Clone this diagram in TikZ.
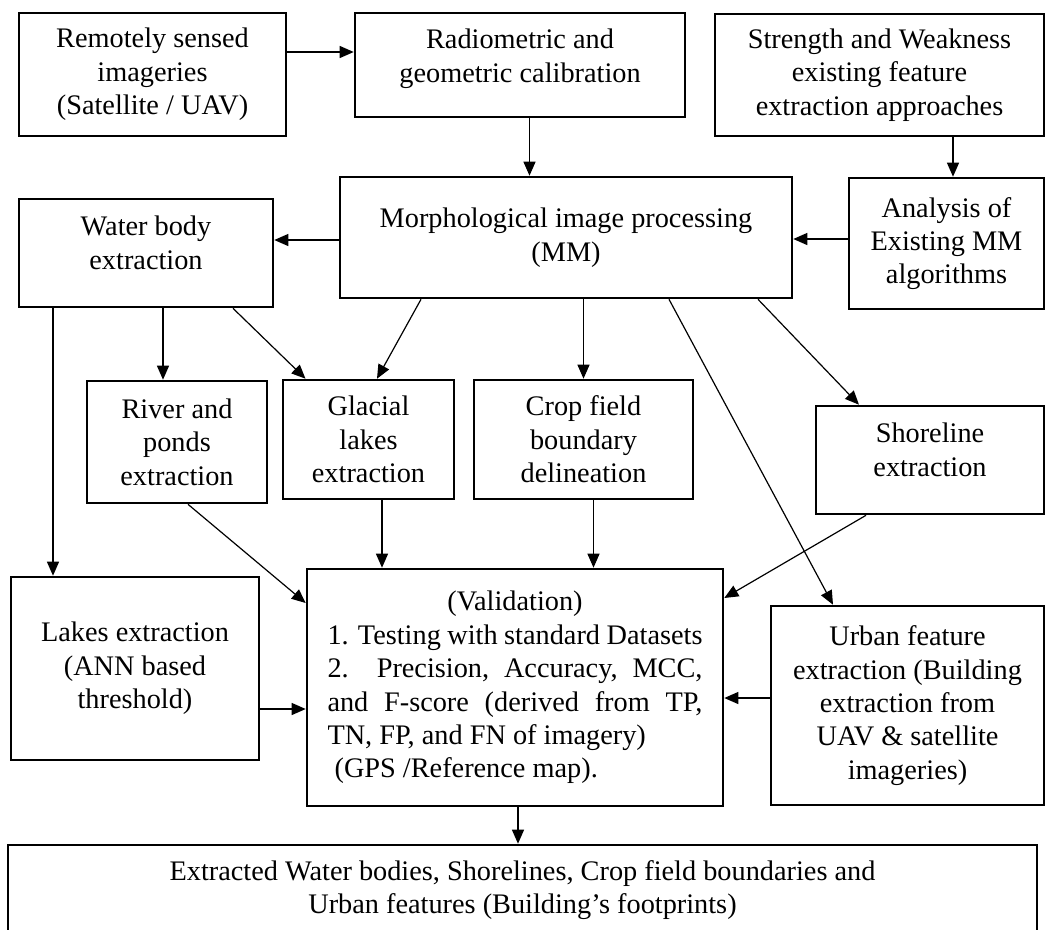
\documentclass[tikz,border=0pt]{standalone}
\usepackage{fontspec}
\setmainfont{Liberation Serif}
\usepackage{tikz}
\usetikzlibrary{positioning}
\usetikzlibrary{calc}
\usetikzlibrary{arrows.meta}
\tikzset{
    % Solid triangular heads, as drawn in the original flow chart
    >={Triangle[length=14pt,width=12pt]},
%
    % Plain box for one stage of the work flow
    stage box/.style={draw, rectangle, line width=2.6pt, inner sep=0pt},
%
    % Thin connector between two stages
    flow/.style={->, line width=1.2pt}}

\begin{document}
\begin{tikzpicture}[x=1pt, y=-1pt, font=\fontsize{28.3pt}{33.4pt}\selectfont]

\tikzset{every node/.style={align=center}}
\useasboundingbox (0,0) rectangle (1046,929);

\node (remote) [stage box, minimum width=267pt, minimum height=123pt]
    at (152.5,74.5) {Remotely sensed\\imageries\\(Satellite / UAV)};
\node (radio) [stage box, minimum width=330pt, minimum height=104pt]
    at (520,65)
    {\begin{tabular}{@{}c@{}}Radiometric and\\geometric calibration\\[12pt]\end{tabular}};
\node (strength) [stage box, minimum width=329pt, minimum height=122pt]
    at (879.5,75) {Strength and Weakness\\existing feature\\extraction approaches};
\node (mm) [stage box, minimum width=452pt, minimum height=121pt]
    at (566,237.5) {Morphological image processing\\(MM)};
\node (water) [stage box, minimum width=254pt, minimum height=108pt]
    at (146,253)
    {\begin{tabular}{@{}c@{}}Water body\\extraction\\[14pt]\end{tabular}};
\node (analysis) [stage box, minimum width=195pt, minimum height=131pt]
    at (946.5,243.5) {Analysis of\\Existing MM\\algorithms};
\node (river) [stage box, minimum width=180pt, minimum height=122pt]
    at (177,442) {River and\\ponds\\extraction};
\node (glacial) [stage box, minimum width=171pt, minimum height=119pt]
    at (368.5,439.5) {Glacial\\lakes\\extraction};
\node (crop) [stage box, minimum width=219pt, minimum height=119pt]
    at (583.5,439.5) {Crop field\\boundary\\delineation};
\node (shore) [stage box, minimum width=228pt, minimum height=108pt]
    at (930,460)
    {\begin{tabular}{@{}c@{}}Shoreline\\extraction\\[14pt]\end{tabular}};
\node (lakes) [stage box, minimum width=248pt, minimum height=183pt]
    at (135,668.5) {Lakes extraction\\(ANN based\\threshold)};
\node (valid) [stage box, minimum width=416pt, minimum height=237pt]
    at (515,687.5) {(Validation)\\
    \makebox[375pt][s]{1. Testing with standard Datasets}\\
    \makebox[375pt][s]{2. Precision, Accuracy, MCC,}\\
    \makebox[375pt][s]{and F-score (derived from TP,}\\
    \makebox[375pt][l]{TN, FP, and FN of imagery)}\\
    \makebox[375pt][l]{\ (GPS /Reference map).}};
\node (urban) [stage box, minimum width=273pt, minimum height=199pt]
    at (907.5,705.5) {Urban feature\\extraction (Building\\extraction from\\UAV \& satellite\\imageries)};
\node (final) [stage box, minimum width=1029pt, minimum height=90pt]
    at (522.5,890) {Extracted Water bodies, Shorelines, Crop field boundaries and\\Urban features (Building’s footprints)};

% top row into the MM stage
\draw [flow] ([yshift=22.5pt]remote.east) -- ([yshift=22.5pt]remote.east -| radio.west);
\draw [flow] ([xshift=9.5pt]radio.south) -- ([xshift=9.5pt]radio.south |- mm.north);
\draw [flow] ([xshift=6.5pt]analysis.north |- strength.south) -- ([xshift=6.5pt]analysis.north);
\draw [flow] ([yshift=4.5pt]analysis.west) -- ([yshift=4.5pt]analysis.west -| mm.east);
\draw [flow] ([yshift=-2.5pt]mm.west) -- ([yshift=-2.5pt]mm.west -| water.east);

% feature extraction branches
\draw [flow] ([xshift=-82pt]lakes.north |- water.south) -- ([xshift=-82pt]lakes.north);
\draw [flow] ([xshift=-14pt]river.north |- water.south) -- ([xshift=-14pt]river.north);
\draw [flow] ([xshift=87pt]water.south) -- ([xshift=-63pt]glacial.north);
\draw [flow] ([xshift=-145pt]mm.south) -- ([xshift=8.5pt]glacial.north);
\draw [flow] (crop.north |- mm.south) -- (crop.north);
\draw [flow] ([xshift=103pt]mm.south) -- ([xshift=-74.5pt]urban.north);
\draw [flow] ([xshift=192pt]mm.south) -- ([xshift=-71pt]shore.north);

% everything goes to validation
\draw [flow] ([xshift=11pt]river.south) -- ([yshift=84.5pt]valid.west);
\draw [flow] ([xshift=13.5pt]glacial.south) -- ([xshift=13.5pt]glacial.south |- valid.north);
\draw [flow] ([xshift=10pt]crop.south) -- ([xshift=10pt]crop.south |- valid.north);
\draw [flow] ([xshift=-64pt]shore.south) -- ([yshift=89.5pt]valid.east);
\draw [flow] ([yshift=-40.5pt]lakes.east) -- ([yshift=-40.5pt]lakes.east -| valid.west);
\draw [flow] ([yshift=7.5pt]urban.west) -- ([yshift=7.5pt]urban.west -| valid.east);
\draw [flow] ([xshift=3pt]valid.south) -- ([xshift=3pt]valid.south |- final.north);

\end{tikzpicture}
\end{document}
